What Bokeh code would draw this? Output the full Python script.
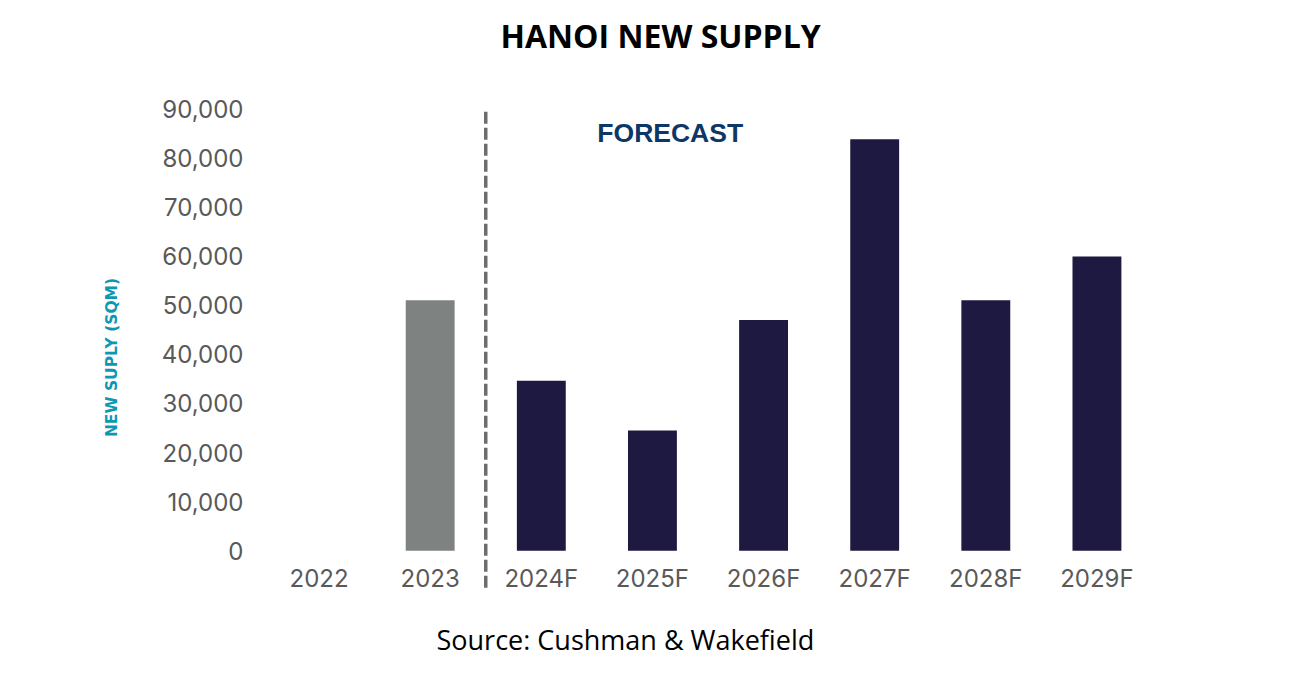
from bokeh.plotting import figure
from bokeh.models import FactorRange, Range1d, FixedTicker, NumeralTickFormatter, Title, ColumnDataSource
from bokeh.core.properties import value
from bokeh.embed import file_html
from bokeh.resources import INLINE

# ---- data ----
years = ["2022", "2023", "2024F", "2025F", "2026F", "2027F", "2028F", "2029F"]
supply = [0, 51000, 34600, 24500, 47000, 83800, 51000, 59900]
kind = ["actual", "actual", "forecast", "forecast", "forecast", "forecast", "forecast", "forecast"]
y_ticks = [0, 10000, 20000, 30000, 40000, 50000, 60000, 70000, 80000, 90000]

ACTUAL = "#7e8281"
FORECAST = "#1e1940"
bar_colors = [ACTUAL if k == "actual" else FORECAST for k in kind]

src = ColumnDataSource(dict(year=years, supply=supply, color=bar_colors))

TICK_FONT = "Inter"

p = figure(
    width=1273, height=659,
    x_range=FactorRange(*years, range_padding=0),
    y_range=Range1d(-13390, 92100),
    output_backend="svg", toolbar_location=None,
    min_border_left=263, min_border_right=121, min_border_top=98, min_border_bottom=43,
)
p.title = None
p.outline_line_color = None
p.background_fill_color = "white"
p.border_fill_color = "white"
p.xgrid.grid_line_color = None
p.ygrid.grid_line_color = None

p.vbar(x="year", top="supply", bottom=0, width=0.44, fill_color="color",
       line_color=None, source=src)

# forecast divider
p.segment(x0=[("2023", 0.5)], x1=[("2023", 0.5)], y0=[-7550], y1=[89800],
          line_color="#6d6d6d", line_width=3.5, line_dash="12 4")

p.text(x=[("2025F", 0.16)], y=[85100], text=["FORECAST"],
       text_font=value("Liberation Sans"), text_font_style="bold",
       text_font_size="26.5px", text_color="#0d3766",
       text_align="center", text_baseline="middle")

# y axis
p.yaxis.ticker = FixedTicker(ticks=y_ticks)
p.yaxis.formatter = NumeralTickFormatter(format="0,0")
p.yaxis.axis_line_color = None
p.yaxis.major_tick_line_color = None
p.yaxis.minor_tick_line_color = None
p.yaxis.major_tick_out = 0
p.yaxis.major_label_standoff = 20
p.yaxis.major_label_text_font = TICK_FONT
p.yaxis.major_label_text_font_size = "24px"
p.yaxis.major_label_text_color = "#595959"
p.yaxis.axis_label = "NEW SUPLY (SQM)"
p.yaxis.axis_label_text_font = "DejaVu Sans"
p.yaxis.axis_label_text_font_style = "bold"
p.yaxis.axis_label_text_font_size = "15.5px"
p.yaxis.axis_label_text_color = "#0e97b3"
p.yaxis.axis_label_standoff = 38

# x axis at y = 0
p.xaxis.fixed_location = 0
p.xaxis.axis_line_color = None
p.xaxis.major_tick_line_color = None
p.xaxis.major_tick_out = 0
p.xaxis.major_label_standoff = 13
p.xaxis.major_label_text_font = TICK_FONT
p.xaxis.major_label_text_font_size = "24px"
p.xaxis.major_label_text_color = "#595959"

# spacer between frame and title (closest to frame), then the title
spacer = Title(text=" ", text_font="Open Sans", text_font_size="10px",
               text_color="#ffffff", standoff=15)
p.add_layout(spacer, "above")
t = Title(text="HANOI NEW SUPPLY", align="left", offset=237,
          text_font="Open Sans", text_font_style="bold", text_font_size="32px",
          text_color="#000000", standoff=22)
p.add_layout(t, "above")

s = Title(text="Source: Cushman & Wakefield", align="left", offset=173,
          text_font="Open Sans", text_font_style="normal", text_font_size="27px",
          text_color="#000000", standoff=4)
p.add_layout(s, "below")

open("out.html", "w").write(file_html(p, INLINE))
